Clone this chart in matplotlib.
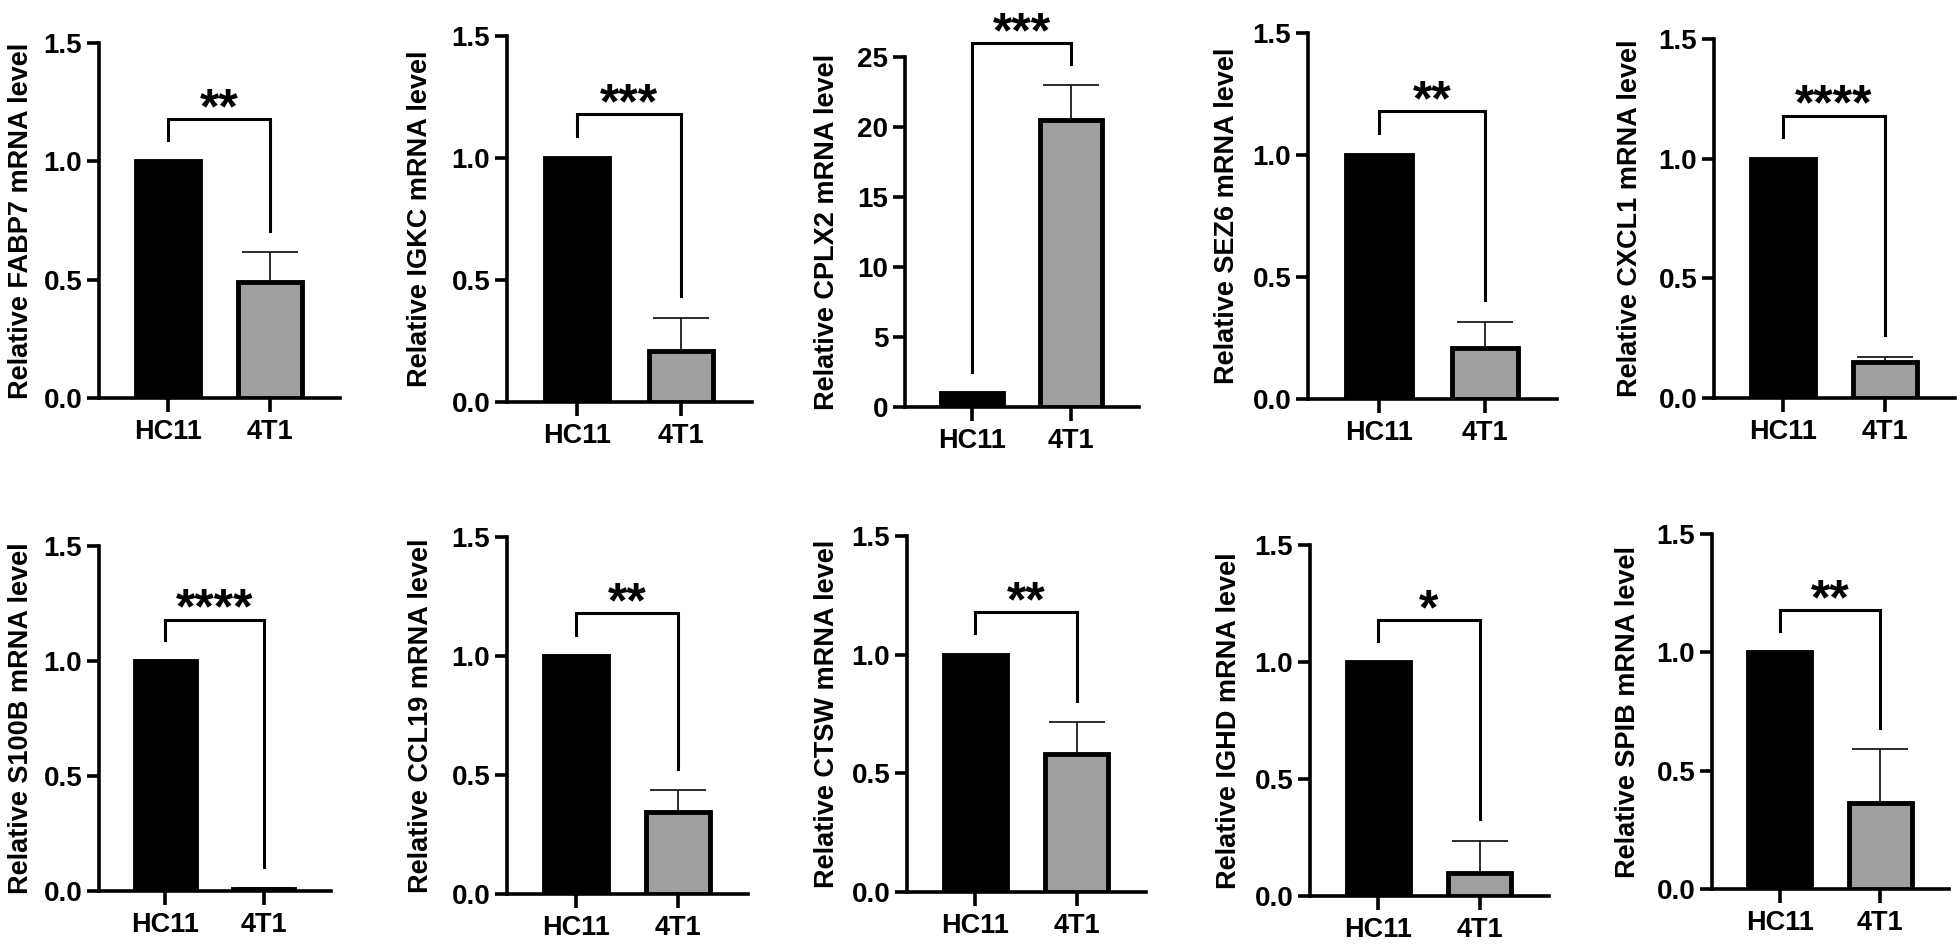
import matplotlib
matplotlib.use("Agg")
import matplotlib.pyplot as plt

plt.rcParams['font.family'] = ['Liberation Sans', 'DejaVu Sans']
plt.rcParams['font.weight'] = 'bold'

# ---------------- data ----------------
groups = ["HC11", "4T1"]
genes = ["FABP7", "IGKC", "CPLX2", "SEZ6", "CXCL1",
         "S100B", "CCL19", "CTSW", "IGHD", "SPIB"]
hc11_mean = [1.0, 1.0, 1.0, 1.0, 1.0, 1.0, 1.0, 1.0, 1.0, 1.0]
t41_mean = [0.49, 0.21, 20.5, 0.21, 0.15, 0.01, 0.345, 0.58, 0.10, 0.365]
t41_err = [0.125, 0.135, 2.5, 0.105, 0.022, 0.005, 0.09, 0.135, 0.137, 0.225]
stars = ["**", "***", "***", "**", "****", "****", "**", "**", "*", "**"]
ymax = [1.5, 1.5, 25, 1.5, 1.5, 1.5, 1.5, 1.5, 1.5, 1.5]
yticks = [[0, 0.5, 1.0, 1.5]] * 2 + [[0, 5, 10, 15, 20, 25]] + [[0, 0.5, 1.0, 1.5]] * 7
ytick_labels = [["0.0", "0.5", "1.0", "1.5"]] * 2 + [["0", "5", "10", "15", "20", "25"]] + \
               [["0.0", "0.5", "1.0", "1.5"]] * 7

# ---------------- layout (pixels in 1960x950 figure) ----------------
W, H = 1960, 950
# left spine x, right end x, top y (ymax), bottom y (0)
boxes = [
    (99, 340, 43, 398), (507, 752, 36, 402), (905, 1139, 57, 407),
    (1308, 1557, 33, 399), (1714, 1955, 39, 398),
    (99, 331, 546, 891), (507, 748, 537, 894), (907, 1146, 536, 892),
    (1310, 1549, 545, 896), (1712, 1949, 534, 889),
]
label_gap = [65, 74, 65, 68, 71, 65, 73, 67, 68, 71]  # px from spine to ylabel anchor

fig = plt.figure(figsize=(W / 100, H / 100), dpi=100)

for i, g in enumerate(genes):
    L, R, T, B = boxes[i]
    ax = fig.add_axes([L / W, 1 - B / H, (R - L) / W, (B - T) / H])
    ax.set_xlim(-0.67, 1.68)
    ax.set_ylim(0, ymax[i])
    bw = 0.62
    ax.bar([0], [hc11_mean[i]], width=bw, color='black', edgecolor='black',
           linewidth=3.5, zorder=3)
    ax.bar([1], [t41_mean[i]], width=bw, color='#9f9f9f', edgecolor='black',
           linewidth=3.5, zorder=3)
    ax.errorbar([1], [t41_mean[i]], yerr=[[0], [t41_err[i]]], fmt='none',
                ecolor='#1a1a1a', elinewidth=1.3, capsize=20, capthick=1.3,
                zorder=2, clip_on=False)
    # significance bracket
    gap = 0.06 * ymax[i]
    top1 = hc11_mean[i]
    top2 = t41_mean[i] + t41_err[i]
    btop = max(top1, top2) + 2 * gap
    ax.plot([0, 0, 1, 1], [top1 + gap, btop, btop, top2 + gap], color='black',
            lw=2.2, clip_on=False, solid_joinstyle='miter', zorder=4)
    ax.annotate(stars[i], xy=(0.5, btop), xytext=(0, -3), textcoords='offset points',
                ha='center', va='baseline', fontsize=36, fontweight='bold',
                annotation_clip=False)

    for s in ['top', 'right']:
        ax.spines[s].set_visible(False)
    for s in ['left', 'bottom']:
        ax.spines[s].set_linewidth(2.6)
    ax.set_yticks(yticks[i])
    ax.set_yticklabels(ytick_labels[i])
    ax.set_xticks([0, 1])
    ax.set_xticklabels(groups)
    ax.tick_params(axis='y', length=9, width=2.6, pad=3, labelsize=20)
    ax.tick_params(axis='x', length=10, width=2.6, pad=5, labelsize=19.5)
    for lab in ax.get_xticklabels() + ax.get_yticklabels():
        lab.set_fontweight('bold')
    ax.set_ylabel(f"Relative {g} mRNA level", fontsize=19.5, fontweight='bold')
    ax.yaxis.set_label_coords(-label_gap[i] / (R - L), 0.5)
    ax.yaxis.label.set_va('bottom')

fig.savefig("out.png", dpi=100)
